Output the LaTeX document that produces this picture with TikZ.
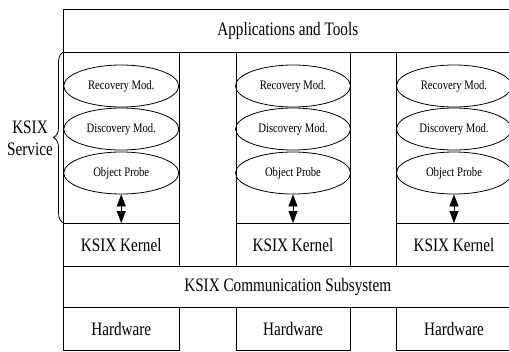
\documentclass[tikz,border=0pt]{standalone}
\usepackage{fontspec}
\setmainfont{Liberation Serif}
\usetikzlibrary{arrows.meta,decorations.pathreplacing,shapes.geometric}
\newcommand{\nq}[1]{\scalebox{0.8}[1]{#1}}
\newcommand{\eq}[1]{\scalebox{0.82}[1]{#1}}
\tikzset{
  box/.style={draw, rectangle, anchor=north west, inner sep=0pt, outer sep=0pt,
    font=\fontsize{19}{22}\selectfont},
  modu/.style={draw, ellipse, minimum width=115pt, minimum height=42pt, inner sep=0pt,
    font=\fontsize{13}{14}\selectfont},
  lbl/.style={anchor=base, inner sep=0pt, font=\fontsize{19}{22}\selectfont},
  dbl/.style={{Triangle[width=9pt,length=12pt]}-{Triangle[width=9pt,length=12pt]}, line width=0.8pt},
  brc/.style={decorate, decoration={brace, amplitude=10pt, aspect=0.5}, line width=0.8pt}
}
\begin{document}
\begin{tikzpicture}[x=1pt, y=-1pt, line width=0.8pt]
\useasboundingbox (0,0) rectangle (509,351);
\clip (0,0) rectangle (509,351);
% top
\node[box, minimum width=448.5pt, minimum height=43pt] (app) at (63.5,9) {\nq{Applications and Tools}};
% service columns
\node[box, minimum width=115.5pt, minimum height=171pt] (s1) at (63.5,52) {};
\node[box, minimum width=114pt, minimum height=171pt] (s2) at (236,52) {};
\node[box, minimum width=116pt, minimum height=171pt] (s3) at (396,52) {};
% kernels
\node[box, minimum width=115.5pt, minimum height=43pt] (k1) at (63.5,223) {\nq{KSIX Kernel}};
\node[box, minimum width=114pt, minimum height=43pt] (k2) at (236,223) {\nq{KSIX Kernel}};
\node[box, minimum width=116pt, minimum height=43pt] (k3) at (396,223) {\nq{KSIX Kernel}};
% communication
\node[box, minimum width=448.5pt, minimum height=41pt] (comm) at (63.5,266) {\nq{KSIX Communication Subsystem}};
% hardware
\node[box, minimum width=115.5pt, minimum height=43pt] (h1) at (63.5,307) {\nq{Hardware}};
\node[box, minimum width=114pt, minimum height=43pt] (h2) at (236,307) {\nq{Hardware}};
\node[box, minimum width=116pt, minimum height=43pt] (h3) at (396,307) {\nq{Hardware}};
% modules
\foreach \i/\cx in {1/121.25, 2/293, 3/454} {
  \node[modu] (r\i) at (\cx,86) {\eq{Recovery Mod.}};
  \node[modu] (d\i) at (\cx,129) {\eq{Discovery Mod.}};
  \node[modu] (o\i) at (\cx,173) {\eq{Object Probe}};
}
% arrows
\draw[dbl] (o1.south) -- (k1.north);
\draw[dbl] (o2.south) -- (k2.north);
\draw[dbl] (o3.south) -- (k3.north);
% brace and label
\draw[brc] (k1.north west) -- (s1.north west);
\node[lbl] (ksix) at (30,133) {\nq{KSIX}};
\node[lbl] (serv) at (30,155) {\nq{Service}};
\end{tikzpicture}
\end{document}
